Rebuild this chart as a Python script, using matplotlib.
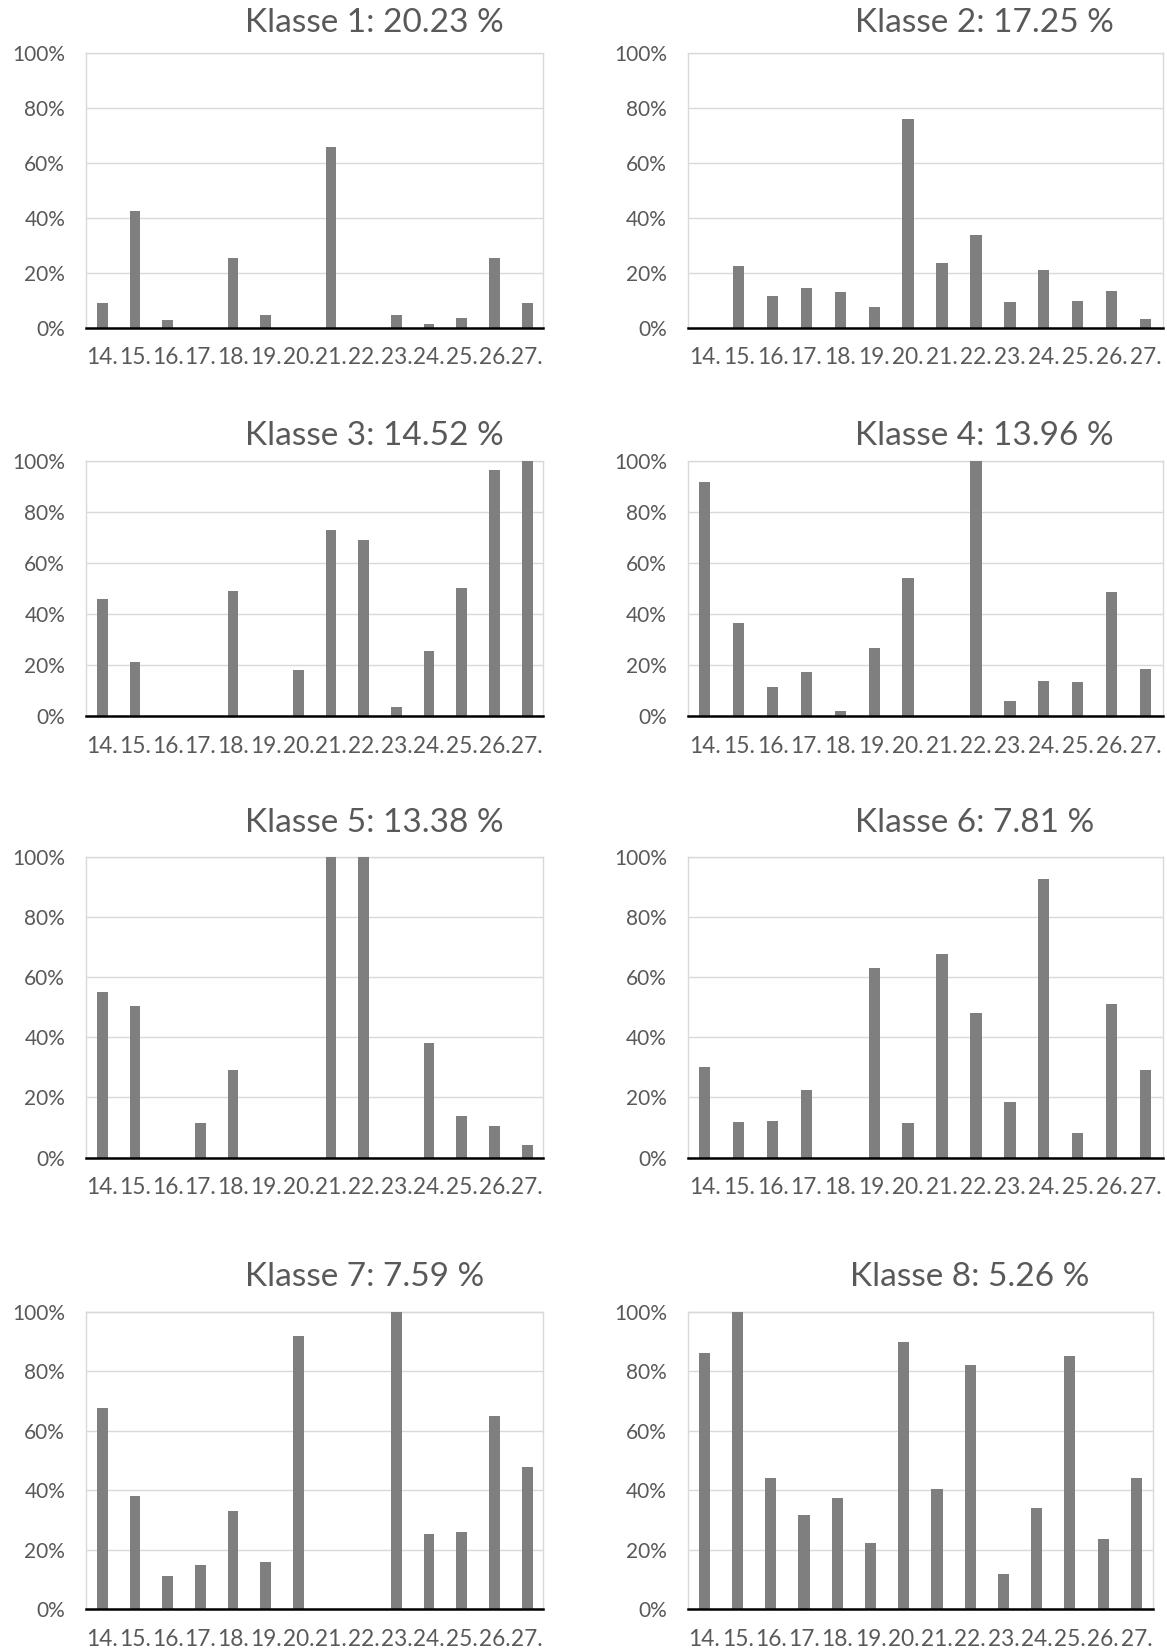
import matplotlib
matplotlib.use("Agg")
import matplotlib.pyplot as plt
from matplotlib.ticker import FuncFormatter

plt.rcParams['font.family'] = ['Lato', 'DejaVu Sans']

categories = ["14.", "15.", "16.", "17.", "18.", "19.", "20.", "21.", "22.", "23.", "24.", "25.", "26.", "27."]

titles = ["Klasse 1: 20.23 %", "Klasse 2: 17.25 %", "Klasse 3: 14.52 %", "Klasse 4: 13.96 %",
          "Klasse 5: 13.38 %", "Klasse 6: 7.81 %", "Klasse 7: 7.59 %", "Klasse 8: 5.26 %"]

klasse1 = [8.8, 42.4, 2.7, 0, 25.2, 4.6, 0, 65.7, 0, 4.6, 1.3, 3.6, 25.2, 8.8]
klasse2 = [0, 22.4, 11.6, 14.4, 13.0, 7.4, 76.0, 23.4, 33.5, 9.2, 20.9, 9.7, 13.4, 3.1]
klasse3 = [45.8, 21.4, 0, 0, 49.3, 0, 18.0, 73.2, 69.1, 3.8, 25.5, 50.4, 96.4, 100]
klasse4 = [91.8, 36.7, 11.3, 17.4, 2.2, 26.7, 54.3, 0, 100, 5.8, 14.0, 13.4, 48.8, 18.4]
klasse5 = [55.0, 50.3, 0, 11.5, 29.0, 0, 0, 100, 100, 0, 38.3, 13.9, 10.5, 4.1]
klasse6 = [30.1, 11.8, 12.2, 22.4, 0, 63.0, 11.4, 67.8, 48.1, 18.6, 92.9, 8.0, 51.0, 29.3]
klasse7 = [67.5, 38.2, 11.1, 15.0, 33.0, 15.8, 91.7, 0, 0, 100, 25.3, 25.8, 64.9, 47.7]
klasse8 = [86.0, 100, 44.2, 31.8, 37.4, 22.3, 89.6, 40.4, 82.2, 12.0, 34.0, 85.2, 23.5, 44.2]

series = [klasse1, klasse2, klasse3, klasse4, klasse5, klasse6, klasse7, klasse8]
yticks = [0, 20, 40, 60, 80, 100]

W, H = 1167, 1651
fig = plt.figure(figsize=(W / 100, H / 100), dpi=100)

# panel boxes in pixels: (left, right, top, bottom)
boxes = [
    (86.0, 543.4, 52.7, 327.5), (687.7, 1162.5, 52.7, 327.5),
    (86.0, 543.4, 461.3, 716.2), (687.7, 1162.5, 461.3, 716.2),
    (86.0, 543.4, 857.3, 1157.5), (687.7, 1162.5, 857.3, 1157.5),
    (86.0, 543.4, 1311.5, 1609.3), (687.7, 1153.0, 1311.5, 1609.3),
]
title_pos = [(245.4, 23.2), (855.0, 23.2), (245.4, 436), (855.0, 436),
             (245.4, 822.6), (855.0, 822.6), (245.4, 1276.5), (850.0, 1276.5)]

text_col = '#595959'
grid_col = '#d9d9d9'
bar_col = '#7f7f7f'

for i, vals in enumerate(series):
    x0, x1, yt, yb = boxes[i]
    ax = fig.add_axes([x0 / W, 1 - yb / H, (x1 - x0) / W, (yb - yt) / H])
    xs = list(range(len(categories)))
    ax.bar(xs, vals, width=1 / 3, color=bar_col, zorder=3)
    ax.set_xlim(-0.5, len(categories) - 0.5)
    ax.set_ylim(0, 100)
    ax.set_yticks(yticks)
    ax.yaxis.set_major_formatter(FuncFormatter(lambda v, p: f"{int(v)}%"))
    ax.set_xticks(xs)
    ax.set_xticklabels(categories)
    ax.grid(axis='y', color=grid_col, linewidth=1.0, zorder=0)
    ax.set_axisbelow(True)
    for s in ['left', 'right', 'top']:
        ax.spines[s].set_color(grid_col)
        ax.spines[s].set_linewidth(1.0)
    ax.spines['bottom'].set_color('black')
    ax.spines['bottom'].set_linewidth(1.8)
    ax.spines['bottom'].set_zorder(4)
    ax.tick_params(axis='y', length=0, pad=15, labelsize=15, labelcolor=text_col)
    ax.tick_params(axis='x', length=0, pad=14, labelsize=16.3, labelcolor=text_col)
    tx, ty = title_pos[i]
    fig.text(tx / W, 1 - ty / H, titles[i], ha='left', va='center',
             fontsize=24, color=text_col)

fig.savefig("out.png", dpi=100)
